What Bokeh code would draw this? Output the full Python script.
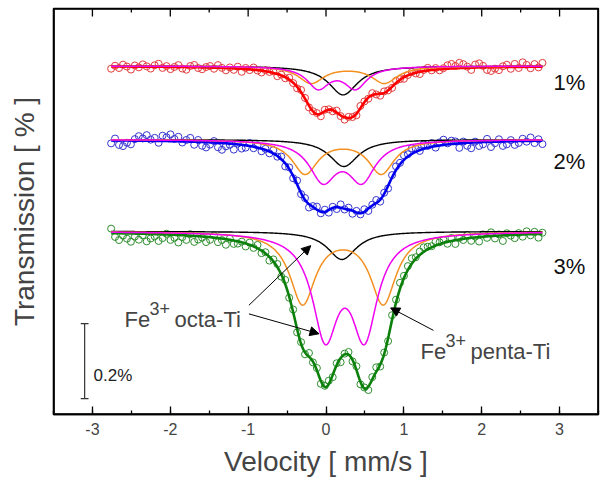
import numpy as np
from bokeh.plotting import figure
from bokeh.models import (Range1d, SingleIntervalTicker, FixedTicker, Label, Arrow, NormalHead,
                          BoxAnnotation)
from bokeh.embed import file_html
from bokeh.resources import INLINE

# ---------------- data ----------------
V_START, V_END = -2.76, 2.78          # velocity range of the channels (mm/s)
N_FINE = 500

series = ["1%", "2%", "3%"]
baselines = [0.932, 0.736, 0.491]     # vertical offset of each spectrum (%)

# Lorentzian components: centre(s) mm/s, FWHM mm/s, depth of each line (%)
black_center = [0.22, 0.23, 0.205]
black_width = [0.45, 0.45, 0.45]
black_depth = [0.077, 0.072, 0.075]

orange_left = [-0.19, -0.27, -0.30]
orange_right = [0.75, 0.71, 0.735]
orange_width = [0.40, 0.40, 0.40]
orange_depth = [0.045, 0.090, 0.190]

magenta_left = [-0.10, -0.04, -0.01]
magenta_right = [0.38, 0.46, 0.495]
magenta_width = [0.35, 0.42, 0.40]
magenta_depth = [0.057, 0.104, 0.266]

# residuals of measured points about the fit (units of 0.001 %)
res_1 = [-6, 2, -4, 5, 0, -8, 3, -2, 6, 1,
         -5, 4, 8, -3, 2, -6, 0, 5, -4, -7,
         3, 6, -2, -5, 1, 4, -3, 7, 0, -6,
         2, -4, 5, -8, 3, -2, 6, -1, -5, 3,
         0, 4, -6, 2, -3, 5, -1, -4, 6, 2,
         -5, 0, 3, -7, 4, 1, -3, 5, -2, -6,
         3, 0, -4, 6, 2, -3, 5, -1, -5, 4,
         0, -3, 6, 2, -4, 1, 5, -2, -6, 3,
         7, -1, 4, -3, 2, 9, 12, 6, 14, 10,
         3, -6, 8, 11, 4, -7, -10, -4, -8, 2,
         6, -5, 8, -3, 12, 5, -4, 7, -2, 10]
res_2 = [-8, 5, -12, -15, -6, -10, 4, 12, 6, 15,
         3, 8, -5, 14, 10, 18, 6, 12, -3, 4,
         10, -8, 5, -10, -14, -6, 4, -12, -18, -8,
         -3, -15, 2, -10, -6, 8, -4, 6, -7, 3,
         -5, 9, -2, 7, -8, 4, -6, 10, -3, 5,
         -9, 2, 8, -4, 6, -7, 3, -5, 9, -2,
         5, -8, 4, -3, 7, -6, 2, 8, -5, 3,
         -7, 6, 10, 4, 12, 6, 15, 8, -2, 12,
         5, 10, -4, 8, 14, 3, 9, 6, -12, 4,
         -8, -15, 2, -10, -6, 8, -14, -4, 6, -12,
         -8, 3, -10, -5, 6, -2, 9, -6, 4, -9]
res_3 = [12, -10, -18, -6, -14, -22, -8, -16, -4, -20,
         -12, -6, -18, -10, 2, -14, -8, -20, -5, -12,
         4, -16, -9, -3, -14, -7, 6, -11, -4, -15,
         3, -9, -6, 2, -8, 6, -4, 9, -7, 3,
         -10, 5, 8, -6, 11, -3, 7, -9, 4, -5,
         10, -2, 6, -8, 3, 9, -6, 5, -11, 2,
         7, -4, 10, -7, 3, -9, 6, 12, -5, 4,
         -8, 12, 8, 16, 6, 10, 14, 4, 9, 12,
         7, 3, 11, 5, 8, -5, 8, -10, 4, -3,
         9, -8, 2, -12, 6, -4, 10, -7, 3, -15,
         5, -2, -9, 4, -6, 8, -3, 6, -10, 3]
residuals = [res_1, res_2, res_3]

X_MIN, X_MAX = -3.5, 3.5
x_ticks = [-3, -2, -1, 0, 1, 2, 3]
x_tick_labels = ["-3", "-2", "-1", "0", "1", "2", "3"]
x_minor_ticks = [-2.5, -1.5, -0.5, 0.5, 1.5, 2.5]
SCALE_BAR = 0.2          # %
SCALE_BAR_BOTTOM = 0.045
SCALE_BAR_X = -3.10

# ---------------- styles / layout ----------------
fit_colors = ["#FF0000", "#0000EE", "#0B800B"]
pt_colors = ["#E23A3A", "#3535D0", "#2F8F2F"]
ORANGE = "#F39020"
MAGENTA = "#F000F0"
FONT = "Liberation Sans"
AX_W = 1.3

PX_PER_UNIT_Y = 375.0
PX_PER_UNIT_X = 545 / 7.0
FIG_W, FIG_H = 606, 486
B_LEFT, B_RIGHT, B_TOP, B_BOTTOM = 53, 8, 8, 72
FRAME_H = FIG_H - B_TOP - B_BOTTOM
Y_TOP = 407 / PX_PER_UNIT_Y
Y_BOT = Y_TOP - FRAME_H / PX_PER_UNIT_Y
MAJOR_TICK = 8 / PX_PER_UNIT_Y
MINOR_TICK = 4 / PX_PER_UNIT_Y
INSET_Y = 0.7 / PX_PER_UNIT_Y
INSET_X = 0.7 / PX_PER_UNIT_X


def lor(v, c, w, d):
    return d / (1.0 + ((v - c) / (w / 2.0)) ** 2)


def comps(v, i):
    blk = lor(v, black_center[i], black_width[i], black_depth[i])
    ora = (lor(v, orange_left[i], orange_width[i], orange_depth[i]) +
           lor(v, orange_right[i], orange_width[i], orange_depth[i]))
    mag = (lor(v, magenta_left[i], magenta_width[i], magenta_depth[i]) +
           lor(v, magenta_right[i], magenta_width[i], magenta_depth[i]))
    return blk, ora, mag


p = figure(width=FIG_W, height=FIG_H, x_range=Range1d(X_MIN, X_MAX), y_range=Range1d(Y_BOT, Y_TOP),
           output_backend="svg", toolbar_location=None,
           min_border_left=B_LEFT, min_border_right=B_RIGHT, min_border_top=B_TOP,
           min_border_bottom=B_BOTTOM)
p.background_fill_color = "white"
p.border_fill_color = "white"
p.outline_line_color = "black"
p.outline_line_width = AX_W
p.grid.visible = False

# frame box as an annotation, inset by under a pixel so it is never clipped
p.add_layout(BoxAnnotation(left=X_MIN + INSET_X, right=X_MAX - INSET_X,
                           bottom=Y_BOT + INSET_Y, top=Y_TOP - INSET_Y,
                           fill_color=None, fill_alpha=0, line_color="black",
                           line_width=AX_W, line_alpha=1.0, level="overlay"))
# ticks along the top edge
p.segment(x0=x_ticks, x1=x_ticks, y0=[Y_TOP] * len(x_ticks),
          y1=[Y_TOP - MAJOR_TICK] * len(x_ticks), line_color="black", line_width=AX_W)
p.segment(x0=x_minor_ticks, x1=x_minor_ticks, y0=[Y_TOP] * len(x_minor_ticks),
          y1=[Y_TOP - MINOR_TICK] * len(x_minor_ticks), line_color="black", line_width=AX_W)

vf = np.linspace(V_START, V_END, N_FINE)
for i in range(3):
    base = baselines[i]
    res = np.array(residuals[i]) * 0.001
    vp = np.linspace(V_START, V_END, len(res))
    b, o, m = comps(vp, i)
    yp = base - b - o - m + res
    p.scatter(vp, yp, marker="circle", size=7, fill_color=None,
              line_color=pt_colors[i], line_width=1)
    bf, of, mf = comps(vf, i)
    p.line(vf, base - bf - of - mf, line_color=fit_colors[i], line_width=2.6)
    p.line(vf, base - bf, line_color="black", line_width=1.4)
    p.line(vf, base - of, line_color=ORANGE, line_width=1.5)
    p.line(vf, base - mf, line_color=MAGENTA, line_width=1.5)

# axes
xa = p.xaxis[0]
xa.ticker = SingleIntervalTicker(interval=1, num_minor_ticks=2)
xa.major_label_overrides = {t: s for t, s in zip(x_ticks, x_tick_labels)}
xa.major_tick_in = 8
xa.major_tick_out = 0
xa.minor_tick_in = 4
xa.minor_tick_out = 0
xa.major_tick_line_width = AX_W
xa.minor_tick_line_width = AX_W
xa.axis_line_width = AX_W
xa.major_label_text_font = FONT
xa.major_label_text_font_size = "16px"
xa.major_label_standoff = 8
xa.axis_label = "Velocity [ mm/s ]"
xa.axis_label_text_font = FONT
xa.axis_label_text_font_size = "28px"
xa.axis_label_text_font_style = "normal"
xa.axis_label_standoff = 8

ya = p.yaxis[0]
ya.ticker = FixedTicker(ticks=[])
ya.major_tick_in = 0
ya.major_tick_out = 0
ya.minor_tick_in = 0
ya.minor_tick_out = 0
ya.major_label_standoff = 0
ya.axis_line_width = AX_W
ya.axis_label = "Transmission [ % ]"
ya.axis_label_text_font = FONT
ya.axis_label_text_font_size = "28px"
ya.axis_label_text_font_style = "normal"
ya.axis_label_standoff = 14

# spectrum labels
lab_y = [0.889, 0.677, 0.397]
for s, ly in zip(series, lab_y):
    p.add_layout(Label(x=2.922, y=ly, text=s, text_font=FONT, text_font_size="22px",
                       text_font_style="normal", text_baseline="alphabetic", text_color="#111111"))

# scale bar
cap = 0.05
p.segment(x0=[SCALE_BAR_X, SCALE_BAR_X - cap, SCALE_BAR_X - cap],
          y0=[SCALE_BAR_BOTTOM, SCALE_BAR_BOTTOM, SCALE_BAR_BOTTOM + SCALE_BAR],
          x1=[SCALE_BAR_X, SCALE_BAR_X + cap, SCALE_BAR_X + cap],
          y1=[SCALE_BAR_BOTTOM + SCALE_BAR, SCALE_BAR_BOTTOM, SCALE_BAR_BOTTOM + SCALE_BAR],
          line_color="#333333", line_width=1.2)
p.add_layout(Label(x=-2.985, y=0.107, text="0.2%", text_font=FONT, text_font_size="17px",
                   text_baseline="alphabetic", text_color="#222222"))


def fe_label(x, y, rest):
    p.add_layout(Label(x=x, y=y, text="Fe", text_font=FONT, text_font_size="22px",
                       text_baseline="alphabetic"))
    p.add_layout(Label(x=x, y=y, x_offset=25, y_offset=11, text="3+", text_font=FONT,
                       text_font_size="18px", text_baseline="alphabetic"))
    p.add_layout(Label(x=x, y=y, x_offset=50, text=rest, text_font=FONT, text_font_size="22px",
                       text_baseline="alphabetic"))


fe_label(-2.588, 0.256, "octa-Ti")
fe_label(1.213, 0.171, "penta-Ti")

arrows = [(-0.990, 0.294, -0.196, 0.453),
          (-0.990, 0.271, -0.090, 0.218),
          (1.380, 0.227, 0.830, 0.287)]
for xs, ys, xe, ye in arrows:
    p.add_layout(Arrow(end=NormalHead(size=9, fill_color="black", line_color="black"),
                       x_start=xs, y_start=ys, x_end=xe, y_end=ye,
                       line_color="black", line_width=1))

open("out.html", "w").write(file_html(p, INLINE))
